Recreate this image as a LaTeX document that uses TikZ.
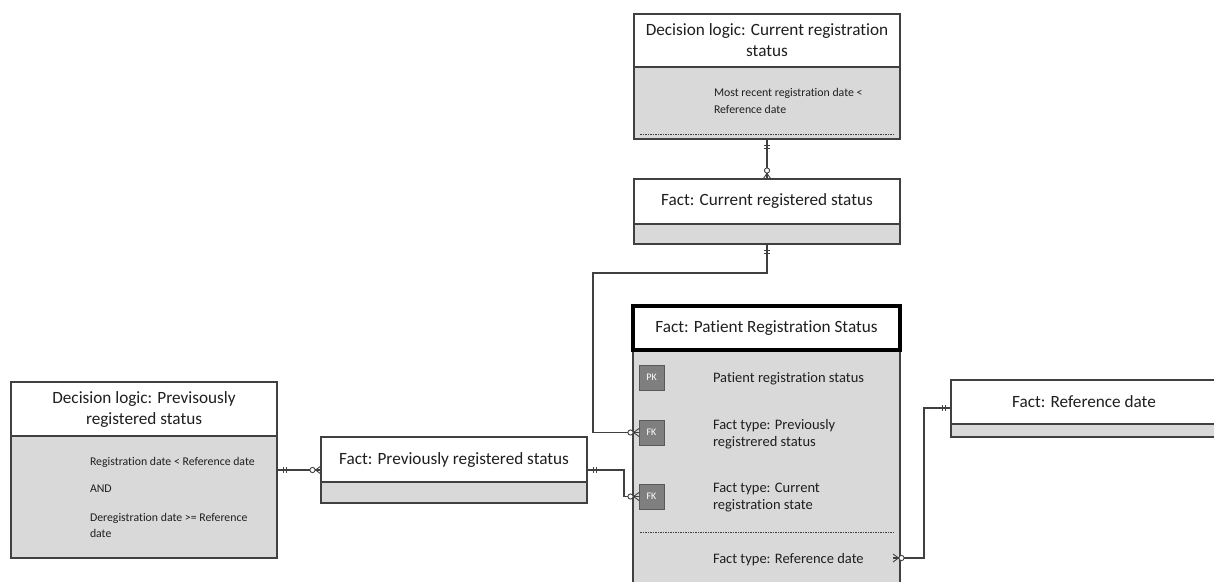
\documentclass[tikz,border=0pt]{standalone}
\usepackage{fontspec}
\setmainfont{Carlito}[Ligatures=NoCommon]
\usetikzlibrary{calc}
\definecolor{bodygrey}{HTML}{D9D9D9}
\definecolor{edge}{HTML}{404040}
\definecolor{keygrey}{HTML}{7F7F7F}
\definecolor{keyedge}{HTML}{595959}
\definecolor{ink}{HTML}{1F1F1F}

% Relationship end markers, drawn along the local x axis (pointing away from the entity)
\tikzset{
  onebar/.pic={
    \draw[draw=edge, line width=0.9pt] (6,-3) -- (6,3) (9,-3) -- (9,3);
  },
  zeromany/.pic={
    \draw[draw=edge, line width=0.9pt] (0,-4) -- (5.5,0) -- (0,4);
    \draw[draw=edge, line width=0.9pt, fill=white] (8.5,0) circle[radius=2.6];
  }
}

\begin{document}
\begin{tikzpicture}[x=1pt,y=-1pt,
  every node/.style={inner sep=0pt, outer sep=0pt, text=ink},
  hdr/.style={draw=edge, line width=1.3pt, fill=white, anchor=north west,
    minimum width=266pt, align=center, font=\fontsize{17.2}{21}\selectfont},
  bodybox/.style={draw=edge, line width=1.3pt, fill=bodygrey, anchor=north west,
    minimum width=266pt},
  row/.style={anchor=west, align=left, font=\fontsize{14.5}{17}\selectfont},
  rulefont/.style={anchor=west, align=left, font=\fontsize{11.8}{16}\selectfont},
  keybox/.style={draw=keyedge, line width=0.8pt, fill=keygrey, anchor=north west,
    minimum size=25pt, text=white, font=\fontsize{10}{10}\selectfont},
  conn/.style={draw=edge, line width=1.2pt},
  divider/.style={draw=edge, line width=0.6pt, dash pattern=on 1.5pt off 1pt}
]
\useasboundingbox (0,0) rectangle (1214,581);
\clip (0,0) rectangle (1214,581);

% Decision logic: Current registration status
\node[bodybox, minimum height=72pt] (dlcB) at (634,67) {};
\node[hdr, minimum height=53pt] (dlcH) at (634,14) {Decision logic: Current registration\\status};
\node[rulefont, font=\fontsize{11.8}{17}\selectfont] (dlcR) at (714,101) {Most recent registration date <\\Reference date};
\draw[divider] ($(dlcB.south west)+(6,-5)$) -- ($(dlcB.south east)+(-6,-5)$);

% Fact: Current registered status
\node[bodybox, minimum height=20pt] (fcrB) at (634,224) {};
\node[hdr, minimum height=45pt] (fcrH) at (634,179) {Fact: Current registered status};

% Fact: Patient Registration Status
\node[bodybox, minimum width=267pt, minimum height=260pt] (prsB) at (633,350) {};
\node[hdr, minimum width=267pt, minimum height=44pt, draw=black, line width=3.5pt] (prsH) at (633,306) {Fact: Patient Registration Status};
\node[keybox] (pk) at (639,365) {PK};
\node[keybox] (fk1) at (639,420) {FK};
\node[keybox] (fk2) at (639,484) {FK};
\node[row] (r1) at (713,378.5) {Patient registration status};
\node[row] (r2) at (713,434) {Fact type: Previously\\registrered status};
\node[row] (r3) at (713,498) {Fact type: Current\\registration state};
\draw[divider] (640,532) -- (893,532);
\node[row] (r4) at (713,559.5) {Fact type: Reference date};

% Decision logic: Previsously registered status
\node[bodybox, minimum height=122pt] (dlpB) at (11,436) {};
\node[hdr, minimum height=54pt] (dlpH) at (11,382) {Decision logic: Previsously\\registered status};
\node[rulefont] (dlp1) at (90,462) {Registration date < Reference date};
\node[rulefont] (dlp2) at (90,489) {AND};
\node[rulefont] (dlp3) at (90,525.5) {Deregistration date >= Reference\\date};

% Fact: Previously registered status
\node[bodybox, minimum height=21pt] (fpsB) at (321,482) {};
\node[hdr, minimum height=45pt] (fpsH) at (321,437) {Fact: Previously registered status};

% Fact: Reference date
\node[bodybox, minimum height=13pt] (frdB) at (951,424) {};
\node[hdr, minimum height=44pt] (frdH) at (951,380) {Fact: Reference date};

% Connector end points and bends
\coordinate (bendA) at (593,273);
\coordinate (dlpOut) at ($(dlpB.north east)+(0,34)$);
\coordinate (fpsIn) at ($(fpsH.north west)+(0,33)$);
\coordinate (fpsOut) at ($(fpsH.north east)+(0,33)$);
\coordinate (rdOut) at ($(prsB.east |- r4.west)+(-7,-1.5)$);
\coordinate (frdIn) at ($(frdH.north west)+(0,28)$);

% Connectors
\draw[conn] (dlcB.south) -- (fcrH.north);
\pic[rotate=-90] at (dlcB.south) {onebar};
\pic[rotate=90] at (fcrH.north) {zeromany};

\draw[conn] (fcrB.south) |- (bendA) |- (fk1.west);
\pic[rotate=-90] at (fcrB.south) {onebar};
\pic[rotate=180] at (fk1.west) {zeromany};

\draw[conn] (dlpOut) -- (fpsIn);
\pic at (dlpOut) {onebar};
\pic[rotate=180] at (fpsIn) {zeromany};

\draw[conn] (fpsOut) -| ($(fk2.west)+(-15,0)$) -- (fk2.west);
\pic at (fpsOut) {onebar};
\pic[rotate=180] at (fk2.west) {zeromany};

\draw[conn] (rdOut) -| ($(frdIn)+(-27,0)$) -- (frdIn);
\pic at (rdOut) {zeromany};
\pic[rotate=180] at (frdIn) {onebar};
\end{tikzpicture}
\end{document}
